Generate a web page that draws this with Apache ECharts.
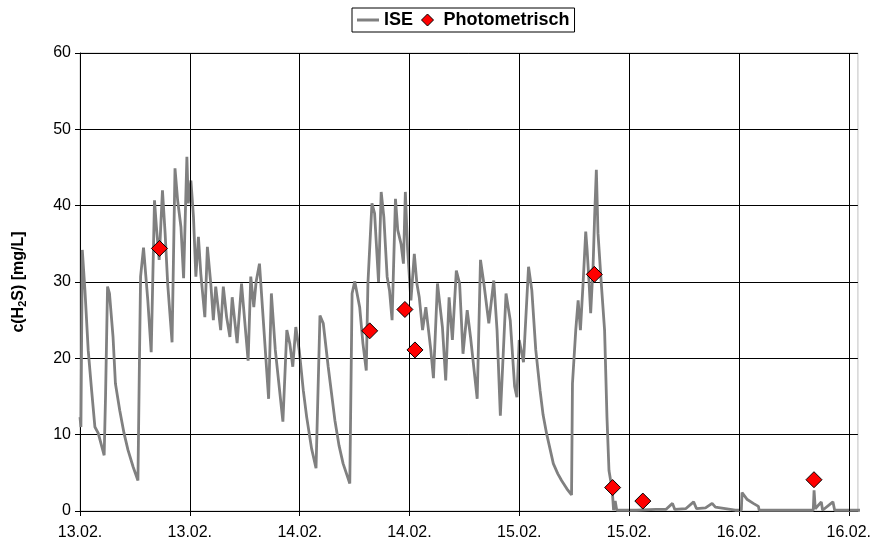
<!DOCTYPE html>
<html>
<head>
<meta charset="utf-8">
<script src="https://cdn.jsdelivr.net/npm/echarts@6/dist/echarts.min.js"></script>
<style>
html,body{margin:0;padding:0;background:#fff;}
#chart{width:874px;height:544px;}
</style>
</head>
<body>
<div id="chart"></div>
<script>
// Time in hours since 13.02. 00:00
const iseHours = [0,0.1,0.25,0.54,0.9,1.27,1.63,1.99,2.64,2.79,3.01,3.22,3.61,3.87,4.34,4.81,5.24,5.8,6.33,6.51,6.62,6.94,7.41,7.78,8.14,8.35,8.65,9.01,9.3,9.58,10.06,10.38,10.67,11.03,11.32,11.68,11.83,12.12,12.4,12.66,12.94,13.2,13.64,13.92,14.29,14.57,14.83,15.37,15.66,16.02,16.38,16.63,17.17,17.65,18.37,18.66,18.99,19.24,19.61,20.61,20.91,21.34,22.17,22.6,22.93,23.25,23.58,23.95,24.4,24.77,25.3,25.79,26.22,26.58,27.12,27.85,28.3,28.75,29.48,29.73,30.02,30.56,30.92,31.28,31.46,31.9,32.19,32.62,32.91,33.2,33.56,33.82,34.1,34.47,34.72,35.08,35.34,35.55,35.8,36.16,36.53,36.81,37.07,37.43,37.79,38.33,38.62,39.06,39.6,39.96,40.33,40.69,41.12,41.48,41.85,42.31,42.67,43.4,43.76,44.13,44.67,45.21,45.57,45.93,46.11,46.55,47.01,47.49,47.74,47.99,48.46,49.01,49.37,49.8,50.27,50.6,50.99,51.72,52.2,52.62,53.2,53.71,53.81,54.17,54.43,54.68,54.97,55.26,55.41,55.63,55.8,56.06,56.23,56.42,56.6,56.96,57.32,57.58,57.8,58.16,58.3,58.48,58.65,60.76,62.93,64.01,64.74,64.99,66.18,67.05,67.37,68.35,69.07,69.43,71.6,72.26,72.34,72.91,73.57,74.13,74.21,78.12,80.12,80.21,80.34,81.0,81.14,82.27,82.46,85.5];
const iseValues = [12.3,11,34.2,28.9,21,15.8,11,10.2,7.3,15,29.4,28.5,22.8,16.7,13.2,10.2,8,5.8,4.0,21,30.7,34.5,27.6,20.8,40.7,37.2,32.9,42,36.4,29.8,22.1,44.9,40.7,37.2,30.5,46.4,40.3,43.3,38.5,30.7,35.9,31.1,25.4,34.6,29.8,25,29.4,23.7,29.4,25.4,22.8,28,22,29.8,19.7,30.7,26.7,30,32.4,14.7,28.5,21.1,11.7,23.7,21.9,18.9,24.1,21.1,15.8,12.3,8.2,5.6,25.6,24.6,18.9,11.9,8.6,6.2,3.6,28.5,30.1,26.7,21.9,18.4,29.8,40.3,39,30,41.8,38.5,30.7,28.9,25,40.9,36.8,35,32.4,41.8,34.2,27.6,33.7,29.8,28,23.7,26.7,21.1,17.4,29.8,24.1,17.1,28,22.4,31.5,29.8,20.6,26.3,22.8,14.7,32.9,29.8,24.6,30.2,23.7,12.5,17.1,28.5,25,16.3,14.9,22.4,19.5,32,28.9,21.1,15.8,12.6,10.1,6.2,4.9,4,2.9,2.1,16.7,23.7,27.6,23.7,29.8,36.6,34.2,29.8,25.9,32,38.5,44.7,36.4,29.8,23.7,12.3,5.3,2.7,0.1,1.3,0.1,0.1,0.2,0.2,1.0,0.2,0.3,1.2,0.3,0.4,1.0,0.5,0.1,0.1,2.4,1.5,1.0,0.6,0.1,0.1,0.1,2.7,0.3,1.2,0.1,1.2,0.1,0.1];
const photoHours = [8.68,31.65,35.5,36.6,56.2,58.2,61.5,80.2];
const photoValues = [34.4,23.6,26.4,21.1,31.0,3.07,1.3,4.1];
const xTickHours = [0,12,24,36,48,60,72,84];
const xTickLabels = ['13.02.','13.02.','14.02.','14.02.','15.02.','15.02.','16.02.','16.02.'];

const iseData = iseHours.map((h,i)=>[h, iseValues[i]]);
const photoData = photoHours.map((h,i)=>[h, photoValues[i]]);

const chart = echarts.init(document.getElementById('chart'), null, {renderer:'canvas'});
const FONT = 'Liberation Sans, Arial, sans-serif';
chart.setOption({
  animation:false,
  backgroundColor:'#fff',
  textStyle:{fontFamily:FONT},
  legend:{
    top:8, left:352,
    borderColor:'#000', borderWidth:1, padding:[3,5,3,5],
    itemGap:8, itemWidth:22, itemHeight:12,
    textStyle:{fontFamily:FONT, fontWeight:'bold', fontSize:18, color:'#000'},
    data:[
      {name:'ISE', icon:'path://M0,0 L22,0 L22,3 L0,3 Z', itemStyle:{color:'#808080', borderWidth:0}},
      {name:'Photometrisch', icon:'path://M6,0 L12,6 L6,12 L0,6 Z', itemStyle:{color:'#ff0000', borderColor:'#000', borderWidth:1}}
    ]
  },
  grid:{left:80, top:53, right:11, bottom:33, show:true, borderColor:'#c0c0c0', borderWidth:1, backgroundColor:'transparent'},
  xAxis:{
    type:'value', min:0, max:85,
    axisLine:{show:true, onZero:false, lineStyle:{color:'#000', width:1}},
    axisTick:{show:true, customValues:xTickHours, length:5, inside:false, lineStyle:{color:'#000'}},
    axisLabel:{customValues:xTickHours, margin:14, fontSize:16, color:'#000', fontFamily:FONT,
      formatter:function(v){ const i = xTickHours.indexOf(v); return i>=0 ? xTickLabels[i] : ''; }},
    splitLine:{show:false}
  },
  yAxis:{
    type:'value', min:0, max:60, interval:10,
    name:'c(H{sub|2}S) [mg/L]', nameLocation:'middle', nameGap:52, nameRotate:90,
    nameTextStyle:{fontFamily:FONT, fontWeight:'bold', fontSize:16, color:'#000',
      rich:{sub:{fontFamily:FONT, fontWeight:'bold', fontSize:11, color:'#000', padding:[7,0,0,0]}}},
    axisLine:{show:true, lineStyle:{color:'#000', width:1}},
    axisTick:{show:true, length:5, lineStyle:{color:'#000'}},
    axisLabel:{margin:9, fontSize:16, color:'#000', fontFamily:FONT},
    splitLine:{show:true, lineStyle:{color:'#000', width:1}}
  },
  series:[
    {
      name:'grid', type:'line', data:[], z:1, silent:true,
      markLine:{silent:true, symbol:['none','none'], label:{show:false},
        lineStyle:{color:'#000', width:1, type:'solid'},
        emphasis:{disabled:true},
        data:xTickHours.slice(1).map(v=>({xAxis:v}))}
    },
    {
      name:'ISE', type:'line', data:iseData, z:3,
      showSymbol:false, symbol:'none',
      lineStyle:{color:'#808080', width:2.8},
      itemStyle:{color:'#808080'}
    },
    {
      name:'Photometrisch', type:'scatter', data:photoData, z:5,
      symbol:'diamond', symbolSize:16,
      itemStyle:{color:'#ff0000', borderColor:'#000', borderWidth:1, opacity:1}
    }
  ]
});
</script>
</body>
</html>
